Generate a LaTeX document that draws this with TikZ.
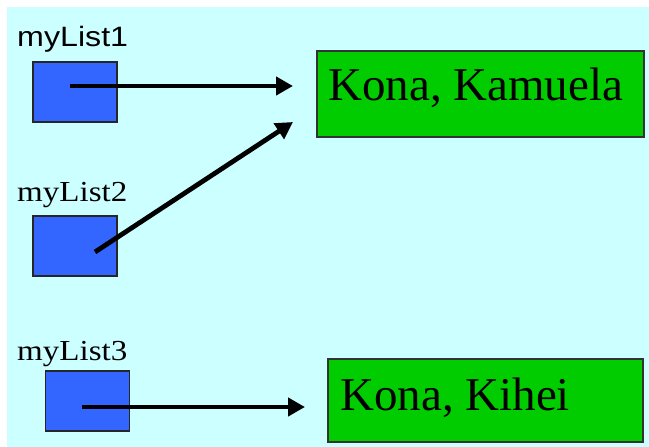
\documentclass[tikz,border=0pt]{standalone}
\usepackage{fontspec}
\usepackage{graphicx}
\setmainfont{Liberation Serif}
\newfontfamily\labelsans{Liberation Sans}
\usetikzlibrary{arrows.meta}
\definecolor{bgcyan}{HTML}{CCFFFF}
\definecolor{ptrblue}{HTML}{3366FF}
\definecolor{listgreen}{HTML}{00CC00}
\begin{document}
\begin{tikzpicture}[x=1pt,y=-1pt,
  refbox/.style={draw=black!85, line width=1.5pt, fill=ptrblue,
    minimum width=84pt, minimum height=60pt, inner sep=0pt},
  listbox/.style={draw=black!80, line width=1.5pt, fill=listgreen, inner sep=0pt},
  ptr/.style={line width=4.8pt, -{Triangle[length=17pt,width=18pt]}},
  varlabel/.style={anchor=base west, inner sep=0pt},
  listtext/.style={anchor=base west, inner sep=0pt,
    font=\fontsize{47}{47}\selectfont}]
\useasboundingbox (0,0) rectangle (649,447);
\fill[white] (0,0) rectangle (649,447);
\fill[bgcyan] (7,7) rectangle (649,447);

% variable names
\node[varlabel, font=\labelsans\fontsize{28}{28}\selectfont] (l1) at (17,46) {\scalebox{1.15}[1]{myList1}};
\node[varlabel, font=\fontsize{29}{29}\selectfont] (l2) at (17,201) {\scalebox{1.14}[1]{myList2}};
\node[varlabel, font=\fontsize{29}{29}\selectfont] (l3) at (17,360) {\scalebox{1.14}[1]{myList3}};

% reference boxes
\node[refbox] (r1) at (75,92) {};
\node[refbox] (r2) at (75,246) {};
\node[refbox] (r3) at (87.5,401) {};

% list objects
\node[listbox, minimum width=327pt, minimum height=86pt] (k1) at (480.5,94) {};
\node[listtext] (t1) at (328,100) {Kona, Kamuela};
\node[listbox, minimum width=315pt, minimum height=83pt] (k2) at (485.5,400.5) {};
\node[listtext] (t2) at (340,410) {Kona, Kihei};

% pointer arrows
\coordinate (s1) at (70,86);
\coordinate (e1) at (293,86);
\coordinate (s2) at (95,252);
\coordinate (e2) at (293,122);
\coordinate (s3) at (82,407);
\coordinate (e3) at (305,407);
\draw[ptr] (s1) -- (e1);
\draw[ptr] (s2) -- (e2);
\draw[ptr] (s3) -- (e3);
\end{tikzpicture}
\end{document}
